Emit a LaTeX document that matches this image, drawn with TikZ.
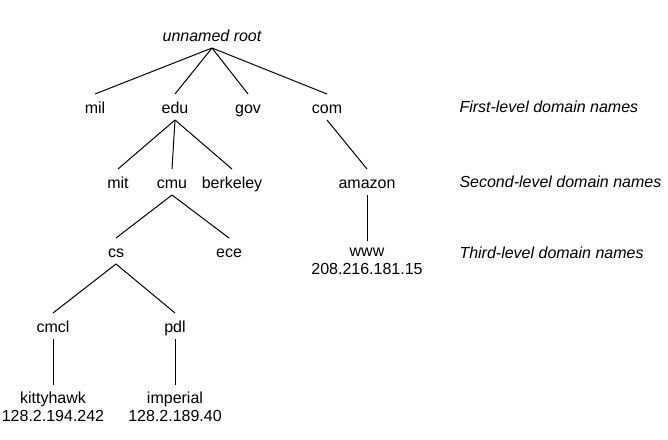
\documentclass[tikz,border=0pt]{standalone}
\usepackage{fontspec}
\setmainfont{Liberation Sans}
\begin{document}
\begin{tikzpicture}[x=0.5pt, y=-0.5pt, line width=0.5pt,
    dname/.style={font=\fontsize{8pt}{9pt}\selectfont, text height=6pt, text depth=0pt, inner xsep=1pt, inner ysep=3.25pt},
    addr/.style={font=\fontsize{8pt}{9pt}\selectfont, align=center, anchor=north, inner xsep=1pt, inner ysep=3.25pt},
    lvl/.style={font=\fontsize{8pt}{9pt}\selectfont\itshape, anchor=west, inner sep=0pt}]
    \useasboundingbox (0,0) rectangle (668,439);
    \node [dname, font=\fontsize{8pt}{9pt}\selectfont\itshape] (root) at (212,35) {unnamed root};
    \node [dname] (mil) at (95,107) {mil};
    \node [dname] (edu) at (175,107) {edu};
    \node [dname] (gov) at (248,107) {gov};
    \node [dname] (com) at (327,107) {com};
    \node [dname] (mit) at (118,182) {mit};
    \node [dname] (cmu) at (172,182) {cmu};
    \node [dname] (berkeley) at (232,182) {berkeley};
    \node [dname] (amazon) at (367,182) {amazon};
    \node [dname] (cs) at (116,251) {cs};
    \node [dname] (ece) at (229,251) {ece};
    \node [dname] (cmcl) at (53,326) {cmcl};
    \node [dname] (pdl) at (175,326) {pdl};
    \node [addr] (www) at (367,241) {www\\208.216.181.15};
    \node [addr] (kittyhawk) at (53,385) {kittyhawk\\128.2.194.242};
    \node [addr] (imperial) at (175,385) {imperial\\128.2.189.40};
    \node [lvl] (first) at (459,107) {First-level domain names};
    \node [lvl] (second) at (459,182) {Second-level domain names};
    \node [lvl] (third) at (459,253) {Third-level domain names};
    \foreach \c in {mil, edu, gov, com}
        \draw (root.south) -- (\c.north);
    \foreach \c in {mit, cmu, berkeley}
        \draw (edu.south) -- (\c.north);
    \draw (com.south) -- (amazon.north);
    \draw (amazon.south) -- (www.north);
    \draw (cmu.south) -- (cs.north);
    \draw (cmu.south) -- (ece.north);
    \draw (cs.south) -- (cmcl.north);
    \draw (cs.south) -- (pdl.north);
    \draw (cmcl.south) -- (kittyhawk.north);
    \draw (pdl.south) -- (imperial.north);
\end{tikzpicture}
\end{document}
